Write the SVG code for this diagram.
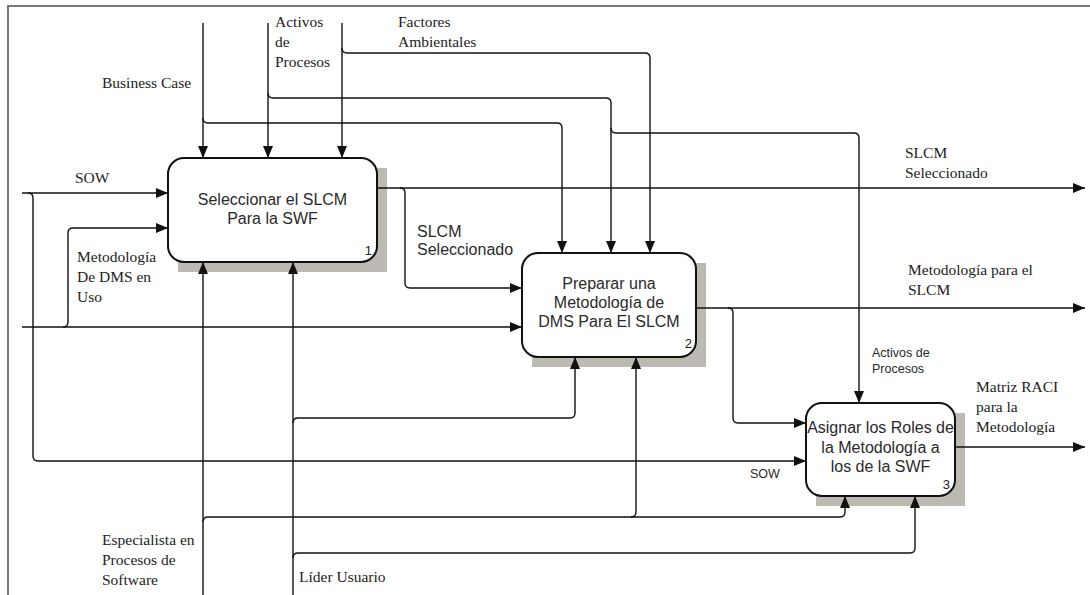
<svg xmlns="http://www.w3.org/2000/svg" width="1090" height="595" viewBox="0 0 1090 595">
<defs>
<marker id="ah" markerUnits="userSpaceOnUse" markerWidth="12" markerHeight="10" refX="12" refY="5" orient="auto">
<path d="M0,0 L12,5 L0,10 z" fill="#111"/>
</marker>
<style>
.ser{font-family:"Liberation Serif","Times New Roman",serif;font-size:15.5px;fill:#222}
.san{font-family:"Liberation Sans",Arial,sans-serif;font-size:16px;fill:#2a2a2a}
.sml{font-family:"Liberation Sans",Arial,sans-serif;font-size:12.5px;fill:#2a2a2a}
.num{font-family:"Liberation Sans",Arial,sans-serif;font-size:13px;fill:#222;text-anchor:end}
.box{fill:#fff;stroke:#111;stroke-width:2}
.shd{fill:#bdbab3}
.c{fill:none;stroke:#111;stroke-width:1.4}
.a{marker-end:url(#ah)}
</style>
</defs>
<rect width="1090" height="595" fill="#fff"/>
<path d="M8,595 V6 H1090" fill="none" stroke="#777" stroke-width="2"/>

<g id="node1">
<rect class="shd" x="178" y="168" width="209" height="104"/>
<rect class="box" x="168" y="158" width="209" height="104" rx="16"/>
<text class="san" x="272.5" y="205" text-anchor="middle">Seleccionar el SLCM</text>
<text class="san" x="272.5" y="224" text-anchor="middle">Para la SWF</text>
<text class="num" x="372" y="255">1</text>
</g>

<g id="node2">
<rect class="shd" x="532" y="263" width="174" height="104"/>
<rect class="box" x="522" y="253" width="174" height="104" rx="16"/>
<text class="san" x="609" y="289" text-anchor="middle">Preparar una</text>
<text class="san" x="609" y="308" text-anchor="middle">Metodología de</text>
<text class="san" x="609" y="327" text-anchor="middle">DMS Para El SLCM</text>
<text class="num" x="692" y="348">2</text>
</g>

<g id="node3">
<rect class="shd" x="816" y="413" width="149" height="93"/>
<rect class="box" x="806" y="403" width="149" height="93" rx="16"/>
<text class="san" x="880.5" y="433" text-anchor="middle">Asignar los Roles de</text>
<text class="san" x="880.5" y="453" text-anchor="middle">la Metodología a</text>
<text class="san" x="880.5" y="472" text-anchor="middle">los de la SWF</text>
<text class="num" x="950" y="489">3</text>
</g>

<g id="connectors">
<path class="c a" d="M203,23 V158"/>
<path class="c a" d="M203,118 Q203,123 208,123 H557 Q562,123 562,128 V253"/>
<path class="c a" d="M268,23 V158"/>
<path class="c a" d="M268,93 Q268,98 273,98 H606 Q611,98 611,103 V253"/>
<path class="c a" d="M611,128 Q611,133 616,133 H854 Q859,133 859,138 V403"/>
<path class="c a" d="M342,23 V158"/>
<path class="c a" d="M342,48 Q342,53 347,53 H645 Q650,53 650,58 V253"/>
<path class="c a" d="M22,193 H168"/>
<path class="c a" d="M28,193 Q33,193 33,198 V456 Q33,461 38,461 H806"/>
<path class="c a" d="M22,327 H522"/>
<path class="c a" d="M63,327 Q68,327 68,322 V233 Q68,228 73,228 H168"/>
<path class="c a" d="M377,188 H1085"/>
<path class="c a" d="M400,188 Q405,188 405,193 V283 Q405,288 410,288 H522"/>
<path class="c a" d="M696,308 H1085"/>
<path class="c a" d="M728,308 Q733,308 733,313 V418 Q733,423 738,423 H806"/>
<path class="c a" d="M955,447 H1085"/>
<path class="c a" d="M203,595 V262"/>
<path class="c a" d="M203,522 Q203,517 208,517 H840 Q845,517 845,512 V496"/>
<path class="c a" d="M631,517 Q636,517 636,512 V357"/>
<path class="c a" d="M293,595 V262"/>
<path class="c a" d="M293,423 Q293,418 298,418 H570 Q575,418 575,413 V357"/>
<path class="c a" d="M293,558 Q293,553 298,553 H910 Q915,553 915,548 V496"/>
</g>

<g id="labels">
<text class="ser" x="102" y="88">Business Case</text>
<text class="ser" x="275" y="27">Activos</text>
<text class="ser" x="275" y="47">de</text>
<text class="ser" x="275" y="67">Procesos</text>
<text class="ser" x="398" y="27">Factores</text>
<text class="ser" x="398" y="47">Ambientales</text>
<text class="ser" x="75" y="183">SOW</text>
<text class="ser" x="77" y="262">Metodología</text>
<text class="ser" x="77" y="282">De DMS en</text>
<text class="ser" x="77" y="302">Uso</text>
<text class="san" x="417" y="237">SLCM</text>
<text class="san" x="417" y="255">Seleccionado</text>
<text class="ser" x="905" y="158">SLCM</text>
<text class="ser" x="905" y="178">Seleccionado</text>
<text class="ser" x="908" y="275">Metodología para el</text>
<text class="ser" x="908" y="295">SLCM</text>
<text class="sml" x="872" y="357">Activos de</text>
<text class="sml" x="872" y="373">Procesos</text>
<text class="ser" x="976" y="392">Matriz RACI</text>
<text class="ser" x="976" y="412">para la</text>
<text class="ser" x="976" y="432">Metodología</text>
<text class="sml" x="750" y="478">SOW</text>
<text class="ser" x="102" y="545">Especialista en</text>
<text class="ser" x="102" y="565">Procesos de</text>
<text class="ser" x="102" y="585">Software</text>
<text class="ser" x="299" y="582">Líder Usuario</text>
</g>
</svg>
